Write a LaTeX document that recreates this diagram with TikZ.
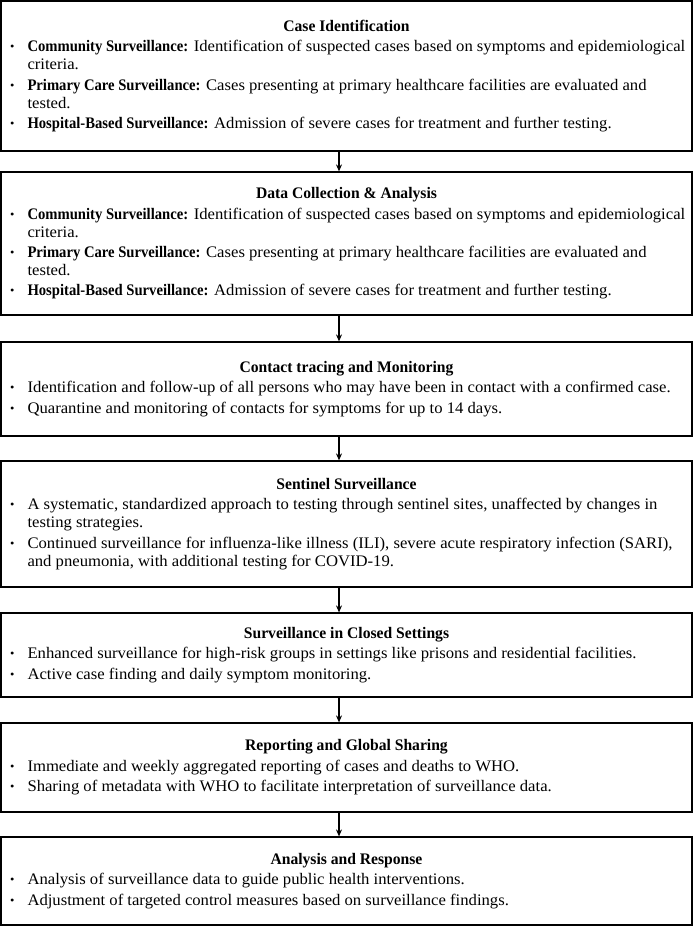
\documentclass[tikz,border=0pt]{standalone}
\usepackage{fontspec}
\setmainfont{Liberation Serif}[FakeStretch=1.035, BoldFeatures={FakeStretch=0.91}]
\newfontface\ttlface{Liberation Serif Bold}[FakeStretch=0.97]
\usetikzlibrary{arrows.meta}
\newcommand\itm[1]{\par\vspace{2.5pt}\hangindent=22pt\hangafter=1\noindent\makebox[22pt][l]{\hspace{4.5pt}\raisebox{1pt}{\fontsize{12pt}{12pt}\selectfont •}}#1\par}
\newcommand\ttl[1]{{\centering\ttlface #1\par}}
\tikzset{
  stagebox/.style={draw, line width=1.2pt, minimum width=691pt, text width=682pt,
    align=flush left, inner sep=0pt, font=\fontsize{16.1pt}{17.9pt}\selectfont},
  flowarrow/.style={line width=1.2pt, -{Stealth[length=7pt,width=6pt]}}
}
\begin{document}
\begin{tikzpicture}[x=1pt,y=1pt]
\useasboundingbox (0,0) rectangle (694,-928);
\node[stagebox, minimum height=150pt] (b1) at (346.5,-76) {\ttl{Case Identification}%
\itm{\textbf{Community Surveillance:} Identification of suspected cases based on symptoms and epidemiological criteria.}%
\itm{\textbf{Primary Care Surveillance:} Cases presenting at primary healthcare facilities are evaluated and tested.}%
\itm{\textbf{Hospital-Based Surveillance:} Admission of severe cases for treatment and further testing.}};
\node[stagebox, minimum height=143pt] (b2) at (346.5,-243.5) {\ttl{Data Collection \& Analysis}%
\itm{\textbf{Community Surveillance:} Identification of suspected cases based on symptoms and epidemiological criteria.}%
\itm{\textbf{Primary Care Surveillance:} Cases presenting at primary healthcare facilities are evaluated and tested.}%
\itm{\textbf{Hospital-Based Surveillance:} Admission of severe cases for treatment and further testing.}};
\node[stagebox, minimum height=94pt] (b3) at (346.5,-389) {\ttl{Contact tracing and Monitoring}%
\itm{Identification and follow-up of all persons who may have been in contact with a confirmed case.}%
\itm{Quarantine and monitoring of contacts for symptoms for up to 14 days.}};
\node[stagebox, minimum height=126pt] (b4) at (346.5,-524) {\ttl{Sentinel Surveillance}%
\itm{A systematic, standardized approach to testing through sentinel sites, unaffected by changes in testing strategies.}%
\itm{Continued surveillance for influenza-like illness (ILI), severe acute respiratory infection (SARI), and pneumonia, with additional testing for COVID-19.}};
\node[stagebox, minimum height=84pt] (b5) at (346.5,-655) {\ttl{Surveillance in Closed Settings}%
\itm{Enhanced surveillance for high-risk groups in settings like prisons and residential facilities.}%
\itm{Active case finding and daily symptom monitoring.}};
\node[stagebox, minimum height=89pt] (b6) at (346.5,-767.5) {\ttl{Reporting and Global Sharing}%
\itm{Immediate and weekly aggregated reporting of cases and deaths to WHO.}%
\itm{Sharing of metadata with WHO to facilitate interpretation of surveillance data.}};
\node[stagebox, minimum height=88pt] (b7) at (346.5,-881) {\ttl{Analysis and Response}%
\itm{Analysis of surveillance data to guide public health interventions.}%
\itm{Adjustment of targeted control measures based on surveillance findings.}};
\coordinate (ax) at (339,0);
\draw[flowarrow] (b1.south -| ax) -- (b2.north -| ax);
\draw[flowarrow] (b2.south -| ax) -- (b3.north -| ax);
\draw[flowarrow] (b3.south -| ax) -- (b4.north -| ax);
\draw[flowarrow] (b4.south -| ax) -- (b5.north -| ax);
\draw[flowarrow] (b5.south -| ax) -- (b6.north -| ax);
\draw[flowarrow] (b6.south -| ax) -- (b7.north -| ax);
\end{tikzpicture}
\end{document}
